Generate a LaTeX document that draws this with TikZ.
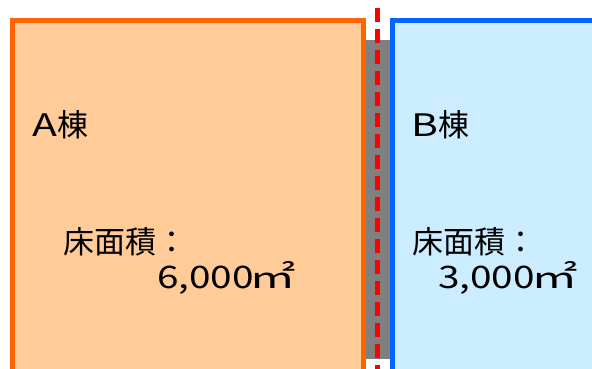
\documentclass[tikz,border=0pt]{standalone}
\usepackage{fontspec}
\setmainfont{Noto Sans CJK JP}
\newfontfamily\widelatin[FakeStretch=1.25]{Noto Sans CJK JP}
\newfontfamily\wideunit[FakeStretch=1.5]{Noto Sans CJK JP}
\definecolor{orfill}{RGB}{255,204,153}
\definecolor{orline}{RGB}{255,102,0}
\definecolor{blfill}{RGB}{204,236,255}
\definecolor{blline}{RGB}{0,102,255}
\definecolor{gapgray}{RGB}{128,128,128}
\begin{document}
\begin{tikzpicture}[x=1pt,y=-1pt,
  bldg/.style={line width=5pt,line join=miter},
  lbl/.style={anchor=base west,inner sep=0pt,font=\fontsize{31}{37}\selectfont}]
\useasboundingbox (0,0) rectangle (592,369);
\clip (0,0) rectangle (592,369);
\filldraw[bldg,fill=orfill,draw=orline] (12.5,20.5) rectangle (363.5,385);
\filldraw[bldg,fill=blfill,draw=blline] (392.5,20.5) rectangle (610,385);
\fill[gapgray] (366,40) rectangle (390,359);
\draw[red,line width=5pt,dash pattern=on 14pt off 7pt] (377.5,8) -- (377.5,375);
\node[lbl] (a) at (32,136) {{\widelatin\addfontfeature{FakeStretch=1.32}A}棟};
\node[lbl] (aarea) at (63,253) {床面積：};
\node[lbl] (aval) at (157,288) {{\widelatin 6,000}\kern-4pt{\wideunit ㎡}};
\node[lbl] (b) at (411,136) {{\widelatin\addfontfeature{FakeStretch=1.32}B}棟};
\node[lbl] (barea) at (412,253) {床面積：};
\node[lbl] (bval) at (438,288) {{\widelatin 3,000}\kern-4pt{\wideunit ㎡}};
\end{tikzpicture}
\end{document}
